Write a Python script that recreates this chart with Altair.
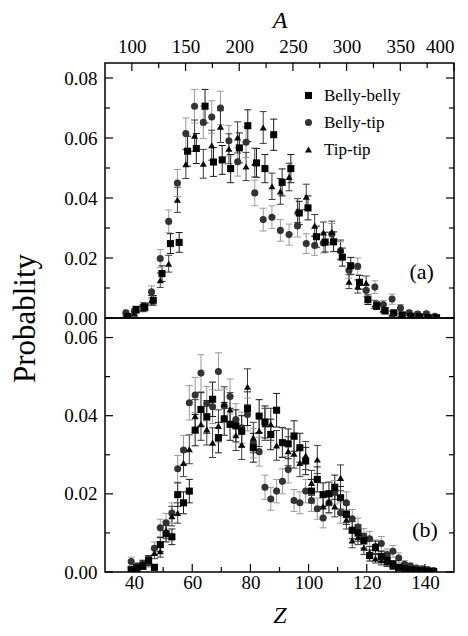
import altair as alt
import pandas as pd

FONT = "Liberation Serif"
SERIES = ["Belly-belly", "Belly-tip", "Tip-tip"]

# ---------------- panel (a) ----------------
a_z_ct = [37.2, 40.1, 43.1, 46.0, 49.0, 51.9, 54.9, 57.8, 60.8, 63.8, 66.7, 69.7,
          72.6, 75.6, 78.5, 81.5, 84.4, 87.4, 90.3, 93.3, 96.2, 99.2, 102.1, 105.1,
          108.0, 111.0, 113.9, 116.9, 119.8, 122.8, 125.7, 128.7, 131.6, 134.6,
          137.5, 140.5, 143.4]
a_z_sq = [37.8, 40.7, 43.7, 46.6, 49.6, 52.5, 55.5, 58.4, 61.4, 64.4, 67.3, 70.3,
          73.2, 76.2, 79.1, 82.1, 85.0, 88.0, 90.9, 93.9, 96.8, 99.8, 102.7, 105.7,
          108.6, 111.6, 114.5, 117.5, 120.4, 123.4, 126.3, 129.3, 132.2, 135.2,
          138.1, 141.1, 144.0]
a_bb = [0.0005, 0.0028, 0.0037, 0.0059, 0.0148, 0.0248, 0.0252, 0.0556, 0.0565, 0.0706,
        0.0520, 0.0527, 0.0498, 0.0567, 0.0641, 0.0517, 0.0498, 0.0611, 0.0452, 0.0498,
        0.0350, 0.0367, 0.0271, 0.0253, 0.0254, 0.0203, 0.0174, 0.0119, 0.0061, 0.0041,
        0.0024, 0.0017, 0.0010, 0.0006, 0.0004, 0.0002, 0.0001]
a_bb_err = [0.0005, 0.0011, 0.0013, 0.0016, 0.0026, 0.0033, 0.0033, 0.0050, 0.0050, 0.0056,
            0.0048, 0.0048, 0.0047, 0.0050, 0.0053, 0.0048, 0.0047, 0.0052, 0.0045, 0.0047,
            0.0039, 0.0040, 0.0035, 0.0033, 0.0033, 0.0030, 0.0028, 0.0023, 0.0016, 0.0013,
            0.0010, 0.0009, 0.0007, 0.0005, 0.0004, 0.0003, 0.0002]
a_bt = [0.0017, 0.0022, 0.0039, 0.0087, 0.0198, 0.0322, 0.0450, 0.0615, 0.0706, 0.0652,
        0.0670, 0.0700, 0.0591, 0.0521, 0.0586, 0.0417, 0.0328, 0.0336, 0.0292, 0.0278,
        0.0307, 0.0248, 0.0242, 0.0250, 0.0280, 0.0224, 0.0159, 0.0172, 0.0092, 0.0103,
        0.0045, 0.0063, 0.0033, 0.0017, 0.0013, 0.0014, 0.0006]
a_bt_err = [0.0009, 0.0010, 0.0013, 0.0020, 0.0030, 0.0038, 0.0045, 0.0052, 0.0056, 0.0054,
            0.0054, 0.0056, 0.0051, 0.0048, 0.0051, 0.0043, 0.0038, 0.0038, 0.0036, 0.0035,
            0.0037, 0.0033, 0.0033, 0.0033, 0.0035, 0.0031, 0.0026, 0.0028, 0.0020, 0.0021,
            0.0014, 0.0017, 0.0012, 0.0009, 0.0008, 0.0008, 0.0005]
a_tt = [0.0010, 0.0015, 0.0033, 0.0059, 0.0126, 0.0181, 0.0394, 0.0513, 0.0608, 0.0514,
        0.0576, 0.0638, 0.0564, 0.0602, 0.0505, 0.0518, 0.0635, 0.0439, 0.0422, 0.0470,
        0.0358, 0.0404, 0.0308, 0.0285, 0.0287, 0.0228, 0.0121, 0.0105, 0.0117, 0.0045,
        0.0030, 0.0015, 0.0008, 0.0005, 0.0004, 0.0003, 0.0002]
a_tt_err = [0.0007, 0.0008, 0.0012, 0.0016, 0.0024, 0.0028, 0.0042, 0.0048, 0.0052, 0.0048,
            0.0050, 0.0053, 0.0050, 0.0052, 0.0047, 0.0048, 0.0053, 0.0044, 0.0043, 0.0046,
            0.0040, 0.0042, 0.0037, 0.0035, 0.0036, 0.0032, 0.0023, 0.0022, 0.0023, 0.0014,
            0.0012, 0.0008, 0.0006, 0.0005, 0.0004, 0.0004, 0.0003]

# ---------------- panel (b) ----------------
b_z = [39, 41, 43, 45, 47, 49, 51, 53, 55, 57, 59, 61, 63, 65, 67, 69, 71, 73, 75, 77,
       79, 81, 83, 85, 87, 89, 91, 93, 95, 97, 99, 101, 103, 105, 107, 109, 111, 113,
       115, 117, 119, 121, 123, 125, 127, 129, 131, 133, 135, 137, 139, 141, 143]
b_bb = [0.0005, 0.0010, 0.0015, 0.0030, 0.0012, 0.0070, 0.0098, 0.0090, 0.0198, 0.0177,
        0.0207, 0.0363, 0.0416, 0.0397, 0.0442, 0.0344, 0.0392, 0.0378, 0.0374, 0.0360,
        0.0418, 0.0318, 0.0399, 0.0384, 0.0352, 0.0414, 0.0331, 0.0328, 0.0348, 0.0318,
        0.0284, 0.0207, 0.0237, 0.0198, 0.0200, 0.0217, 0.0190, 0.0147, 0.0107, 0.0100,
        0.0080, 0.0042, 0.0062, 0.0040, 0.0030, 0.0020, 0.0012, 0.0008, 0.0006, 0.0004,
        0.0003, 0.0002, 0.0001]
b_bb_err = [0.0005, 0.0007, 0.0008, 0.0012, 0.0007, 0.0018, 0.0021, 0.0020, 0.0030, 0.0028,
            0.0030, 0.0040, 0.0043, 0.0042, 0.0044, 0.0039, 0.0042, 0.0041, 0.0041, 0.0040,
            0.0043, 0.0037, 0.0042, 0.0041, 0.0039, 0.0043, 0.0038, 0.0038, 0.0039, 0.0037,
            0.0035, 0.0030, 0.0032, 0.0030, 0.0030, 0.0031, 0.0029, 0.0025, 0.0022, 0.0021,
            0.0019, 0.0014, 0.0017, 0.0013, 0.0012, 0.0009, 0.0007, 0.0006, 0.0005, 0.0004,
            0.0004, 0.0003, 0.0002]
b_bt = [0.0027, 0.0015, 0.0021, 0.0023, 0.0061, 0.0113, 0.0126, 0.0151, 0.0264, 0.0312,
        0.0433, 0.0453, 0.0509, 0.0431, 0.0423, 0.0513, 0.0425, 0.0449, 0.0390, 0.0369,
        0.0403, 0.0330, 0.0308, 0.0217, 0.0187, 0.0207, 0.0232, 0.0262, 0.0183, 0.0177,
        0.0207, 0.0183, 0.0162, 0.0138, 0.0177, 0.0204, 0.0151, 0.0177, 0.0136, 0.0115,
        0.0091, 0.0085, 0.0065, 0.0073, 0.0045, 0.0053, 0.0036, 0.0020, 0.0015, 0.0010,
        0.0008, 0.0006, 0.0004]
b_bt_err = [0.0011, 0.0008, 0.0010, 0.0010, 0.0016, 0.0022, 0.0024, 0.0026, 0.0034, 0.0037,
            0.0044, 0.0045, 0.0047, 0.0044, 0.0043, 0.0048, 0.0043, 0.0045, 0.0041, 0.0040,
            0.0042, 0.0038, 0.0037, 0.0031, 0.0029, 0.0030, 0.0032, 0.0034, 0.0028, 0.0028,
            0.0030, 0.0028, 0.0027, 0.0025, 0.0028, 0.0030, 0.0026, 0.0028, 0.0024, 0.0023,
            0.0020, 0.0019, 0.0017, 0.0018, 0.0014, 0.0015, 0.0013, 0.0009, 0.0008, 0.0007,
            0.0006, 0.0005, 0.0004]
b_tt = [0.0008, 0.0005, 0.0020, 0.0028, 0.0049, 0.0053, 0.0107, 0.0143, 0.0151, 0.0279,
        0.0314, 0.0399, 0.0378, 0.0365, 0.0331, 0.0374, 0.0430, 0.0416, 0.0350, 0.0326,
        0.0474, 0.0344, 0.0361, 0.0378, 0.0378, 0.0324, 0.0332, 0.0309, 0.0303, 0.0279,
        0.0298, 0.0228, 0.0288, 0.0168, 0.0180, 0.0168, 0.0241, 0.0134, 0.0081, 0.0090,
        0.0062, 0.0050, 0.0035, 0.0030, 0.0025, 0.0015, 0.0010, 0.0008, 0.0005, 0.0004,
        0.0003, 0.0002, 0.0001]
b_tt_err = [0.0006, 0.0005, 0.0009, 0.0011, 0.0015, 0.0015, 0.0022, 0.0025, 0.0026, 0.0035,
            0.0037, 0.0042, 0.0041, 0.0040, 0.0038, 0.0041, 0.0044, 0.0043, 0.0039, 0.0038,
            0.0046, 0.0039, 0.0040, 0.0041, 0.0041, 0.0038, 0.0038, 0.0037, 0.0037, 0.0035,
            0.0036, 0.0032, 0.0036, 0.0027, 0.0028, 0.0027, 0.0033, 0.0024, 0.0019, 0.0020,
            0.0017, 0.0015, 0.0012, 0.0012, 0.0011, 0.0008, 0.0007, 0.0006, 0.0005, 0.0004,
            0.0004, 0.0003, 0.0002]

# axis ticks
a_y_major = [0, 0.02, 0.04, 0.06, 0.08]
a_y_minor = [0.01, 0.03, 0.05, 0.07]
b_y_major = [0, 0.02, 0.04, 0.06]
b_y_minor = [0.01, 0.03, 0.05]
z_major = [40, 60, 80, 100, 120, 140]
z_minor = [50, 70, 90, 110, 130]
A_major = [100, 150, 200, 250, 300, 350, 400]
A_minor = [125, 175, 225, 275, 325, 375]

panel_labels = ["(a)", "(b)"]
label_z = [138.9, 140.0]
label_p = [0.0155, 0.0108]

W, H_A, H_B = 349, 255, 254
zscale = alt.Scale(domain=[30, 150], nice=False, zero=False)
BAR_KEYS = ["bb", "bt", "tt"]


def make_df(z_lists, vals, errs):
    rows = []
    for name in ["Belly-tip", "Belly-belly", "Tip-tip"]:
        key = BAR_KEYS[SERIES.index(name)]
        for z, v, e in zip(z_lists[name], vals[name], errs[name]):
            rows.append({"Z": z, "P": v, "lo": max(v - e, 0), "hi": v + e,
                         "series": name, "bar": key})
    return pd.DataFrame(rows)


df_a = make_df({"Belly-belly": a_z_sq, "Belly-tip": a_z_ct, "Tip-tip": a_z_ct},
               {"Belly-belly": a_bb, "Belly-tip": a_bt, "Tip-tip": a_tt},
               {"Belly-belly": a_bb_err, "Belly-tip": a_bt_err, "Tip-tip": a_tt_err})
df_b = make_df({"Belly-belly": b_z, "Belly-tip": b_z, "Tip-tip": b_z},
               {"Belly-belly": b_bb, "Belly-tip": b_bt, "Tip-tip": b_tt},
               {"Belly-belly": b_bb_err, "Belly-tip": b_bt_err, "Tip-tip": b_tt_err})

stroke_enc = alt.Stroke("bar:N", scale=alt.Scale(domain=BAR_KEYS, range=["#1a1a1a", "#9a9a9a", "#3c3c3c"]), legend=None)

leg = alt.Legend(title=None, orient="none", legendX=195, legendY=24, padding=0,
                 labelFont=FONT, labelFontSize=17, labelColor="black",
                 labelOffset=7, rowPadding=9, symbolStrokeWidth=0)
color_enc = alt.Color("series:N", scale=alt.Scale(domain=SERIES, range=["#000000", "#333333", "#0a0a0a"]), legend=leg)
shape_enc = alt.Shape("series:N", scale=alt.Scale(domain=SERIES, range=["square", "circle", "triangle-up"]), legend=leg)
size_enc = alt.Size("series:N", scale=alt.Scale(domain=SERIES, range=[50, 50, 72]), legend=leg)


def panel_layers(df, ydom, yaxis, xaxis, y_major, y_minor, lab_i):
    y_sc = alt.Scale(domain=ydom, nice=False, zero=False)
    base = alt.Chart(df)
    X = lambda f: alt.X(f, scale=zscale, axis=xaxis)
    Y = lambda f: alt.Y(f, scale=y_sc, axis=yaxis)
    out = []
    out.append(base.mark_rule(strokeWidth=1, clip=True).encode(
        x=X("Z:Q"), y=Y("lo:Q"), y2="hi:Q", stroke=stroke_enc))
    for f in ["lo:Q", "hi:Q"]:
        out.append(base.mark_rule(strokeWidth=1, xOffset=-3.5, x2Offset=3.5, clip=True).encode(
            x=X("Z:Q"), x2="Z:Q", y=Y(f), stroke=stroke_enc))
    out.append(base.mark_point(filled=True, opacity=1, strokeWidth=0, clip=True).encode(
        x=X("Z:Q"), y=Y("P:Q"), color=color_enc, shape=shape_enc, size=size_enc))
    for vals, ln in [(y_major, 8), (y_minor, 5)]:
        d = pd.DataFrame({"P": vals})
        out.append(alt.Chart(d).mark_rule(color="black", strokeWidth=1.2).encode(
            y=Y("P:Q"), x=alt.value(0), x2=alt.value(ln)))
        out.append(alt.Chart(d).mark_rule(color="black", strokeWidth=1.2).encode(
            y=Y("P:Q"), x=alt.value(W), x2=alt.value(W - ln)))
    d = pd.DataFrame({"Z": [label_z[lab_i]], "P": [label_p[lab_i]], "t": [panel_labels[lab_i]]})
    out.append(alt.Chart(d).mark_text(font=FONT, fontSize=22, color="black").encode(
        x=X("Z:Q"), y=Y("P:Q"), text="t:N"))
    return out


yaxis_a = alt.Axis(values=a_y_major, format=".2f", labelPadding=8, title="Probablity",
                   titleX=-80, titleY=H_A, titleAngle=270, titleBaseline="middle",
                   titleAlign="center", titleFontSize=31)
yaxis_b = alt.Axis(values=b_y_major, format=".2f", labelPadding=8, title=None)
zaxis = alt.Axis(values=z_major, format="d", title="Z", titleFontStyle="italic",
                 titleFontSize=24, labelPadding=1, titlePadding=11)
Aaxis = alt.Axis(values=A_major, format="d", orient="top", title="A", titleFontStyle="italic",
                 titleFontSize=24, labelPadding=7, titlePadding=5)

A_layers = []
Ascale = alt.Scale(domain=[75, 400], nice=False, zero=False)
for vals, ln in [(A_major, 8), (A_minor, 5)]:
    d = pd.DataFrame({"A": vals})
    A_layers.append(alt.Chart(d).mark_rule(color="black", strokeWidth=1.2).encode(
        x=alt.X("A:Q", scale=Ascale, axis=Aaxis), y=alt.value(0), y2=alt.value(ln)))

top_inner = alt.layer(*panel_layers(df_a, [0, 0.085], yaxis_a, None, a_y_major, a_y_minor, 0))
top = alt.layer(top_inner, alt.layer(*A_layers)).resolve_scale(x="independent").properties(width=W, height=H_A)

Z_layers = []
for vals, ln in [(z_major, 8), (z_minor, 5)]:
    d = pd.DataFrame({"Z": vals})
    Z_layers.append(alt.Chart(d).mark_rule(color="black", strokeWidth=1.2).encode(
        x=alt.X("Z:Q", scale=zscale, axis=zaxis), y=alt.value(H_B), y2=alt.value(H_B - ln)))

bottom = alt.layer(*panel_layers(df_b, [0, 0.065], yaxis_b, zaxis, b_y_major, b_y_minor, 1),
                   *Z_layers).properties(width=W, height=H_B)

chart = alt.vconcat(top, bottom, spacing=0, bounds="flush").properties(
    padding={"left": 0, "top": -1, "right": 0, "bottom": 0}
).configure_axis(
    domain=False, ticks=False, grid=False, labelFont=FONT, labelFontSize=19, labelColor="black",
    titleFont=FONT, titleFontWeight="normal", titleColor="black"
).configure_view(stroke="black", strokeWidth=1.5).configure_concat(spacing=0)

chart.save("out.html", embed_options={"renderer": "svg", "actions": False})
